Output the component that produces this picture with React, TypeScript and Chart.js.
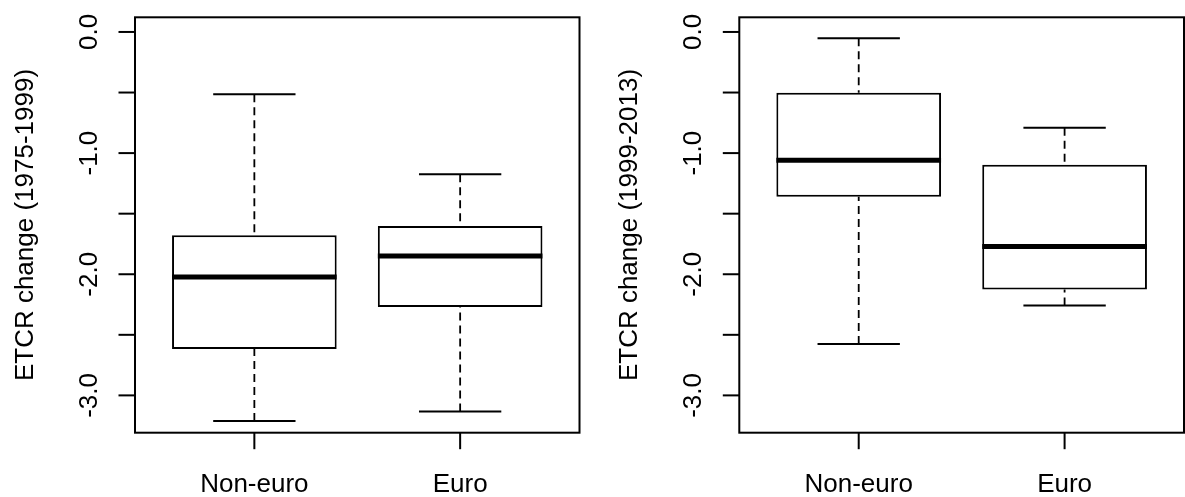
import React, { useEffect, useRef } from "react";
import { Chart, registerables } from "chart.js";

Chart.register(...registerables);

// ---- data ----
const categories = ["Non-euro", "Euro"];
const categoryPositions = [1, 2];
const yTicks = [0, -0.5, -1, -1.5, -2, -2.5, -3];
const yTickLabels = ["0.0", "", "-1.0", "", "-2.0", "", "-3.0"];

// Panel 1: ETCR change (1975-1999)
const p1Lower = [-3.212, -3.132];
const p1Q1 = [-2.617, -2.27];
const p1Median = [-2.022, -1.849];
const p1Q3 = [-1.678, -1.601];
const p1Upper = [-0.515, -1.174];

// Panel 2: ETCR change (1999-2013)
const p2Lower = [-2.576, -2.259];
const p2Q1 = [-1.361, -2.126];
const p2Median = [-1.058, -1.771];
const p2Q3 = [-0.502, -1.097];
const p2Upper = [-0.052, -0.791];

const yTitle1 = "ETCR change (1975-1999)";
const yTitle2 = "ETCR change (1999-2013)";

const yMin = -3.308;
const yMax = 0.121;
const xMin = 0.42;
const xMax = 2.58;

const FONT = '26px "Liberation Sans", Arial, Helvetica, sans-serif';

type PanelProps = {
  left: number;
  width: number;
  padding: { left: number; right: number; top: number; bottom: number };
  lower: number[];
  q1: number[];
  median: number[];
  q3: number[];
  upper: number[];
  title: string;
};

function Panel(props: PanelProps) {
  const ref = useRef<HTMLCanvasElement | null>(null);

  useEffect(() => {
    const canvas = ref.current;
    if (!canvas) return;
    const { lower, q1, median, q3, upper, title } = props;

    const rPlugin = {
      id: "rBoxplot",
      afterDatasetsDraw(chart: any) {
        const { ctx, chartArea: a, scales } = chart;
        const x = scales.x;
        const y = scales.y;
        ctx.save();
        ctx.strokeStyle = "#000";
        ctx.fillStyle = "#000";
        ctx.lineCap = "butt";

        categoryPositions.forEach((pos, i) => {
          const cx = x.getPixelForValue(pos);
          const capL = x.getPixelForValue(pos - 0.2);
          const capR = x.getPixelForValue(pos + 0.2);
          const boxL = x.getPixelForValue(pos - 0.4);
          const boxR = x.getPixelForValue(pos + 0.4);
          // dashed whiskers
          ctx.lineWidth = 1.8;
          ctx.setLineDash([8, 5]);
          ctx.beginPath();
          ctx.moveTo(cx, y.getPixelForValue(upper[i]));
          ctx.lineTo(cx, y.getPixelForValue(q3[i]));
          ctx.moveTo(cx, y.getPixelForValue(lower[i]));
          ctx.lineTo(cx, y.getPixelForValue(q1[i]));
          ctx.stroke();
          ctx.setLineDash([]);
          // staples
          ctx.lineWidth = 2;
          ctx.beginPath();
          ctx.moveTo(capL, y.getPixelForValue(upper[i]));
          ctx.lineTo(capR, y.getPixelForValue(upper[i]));
          ctx.moveTo(capL, y.getPixelForValue(lower[i]));
          ctx.lineTo(capR, y.getPixelForValue(lower[i]));
          ctx.stroke();
          // median
          ctx.lineWidth = 5;
          ctx.beginPath();
          ctx.moveTo(boxL, y.getPixelForValue(median[i]));
          ctx.lineTo(boxR, y.getPixelForValue(median[i]));
          ctx.stroke();
        });

        // frame
        ctx.lineWidth = 2;
        ctx.strokeRect(a.left, a.top, a.right - a.left, a.bottom - a.top);

        // y axis ticks + labels
        ctx.font = FONT;
        yTicks.forEach((v, i) => {
          const py = y.getPixelForValue(v);
          ctx.beginPath();
          ctx.moveTo(a.left - 16.5, py);
          ctx.lineTo(a.left, py);
          ctx.stroke();
          if (yTickLabels[i]) {
            ctx.save();
            ctx.translate(a.left - 38, py);
            ctx.rotate(-Math.PI / 2);
            ctx.textAlign = "center";
            ctx.textBaseline = "alphabetic";
            ctx.fillText(yTickLabels[i], 0, 0);
            ctx.restore();
          }
        });

        // x axis ticks + labels
        categoryPositions.forEach((pos, i) => {
          const px = x.getPixelForValue(pos);
          ctx.beginPath();
          ctx.moveTo(px, a.bottom);
          ctx.lineTo(px, a.bottom + 16.5);
          ctx.stroke();
          ctx.textAlign = "center";
          ctx.textBaseline = "alphabetic";
          ctx.fillText(categories[i], px, a.bottom + 59.5);
        });

        // y title
        ctx.save();
        ctx.translate(a.left - 102, (a.top + a.bottom) / 2);
        ctx.rotate(-Math.PI / 2);
        ctx.textAlign = "center";
        ctx.textBaseline = "alphabetic";
        ctx.fillText(title, 0, 0);
        ctx.restore();

        ctx.restore();
      },
    };

    const chart = new Chart(canvas, {
      type: "bar",
      data: {
        datasets: [
          {
            label: "IQR",
            data: categoryPositions.map((p, i) => ({ x: p, y: [q1[i], q3[i]] })) as any,
            backgroundColor: "#ffffff",
            borderColor: "#000000",
            borderWidth: 2,
            borderSkipped: false,
            barPercentage: 0.8,
            categoryPercentage: 1,
          },
        ],
      },
      options: {
        animation: false,
        responsive: false,
        devicePixelRatio: 1,
        events: [],
        layout: { padding: props.padding },
        plugins: {
          legend: { display: false },
          tooltip: { enabled: false },
          title: { display: false },
        },
        scales: {
          x: {
            type: "linear",
            display: false,
            offset: false,
            grid: { offset: false },
            min: xMin,
            max: xMax,
            afterBuildTicks: (axis: any) => {
              axis.ticks = categoryPositions.map((v) => ({ value: v }));
            },
          },
          y: {
            type: "linear",
            display: false,
            min: yMin,
            max: yMax,
          },
        },
      },
      plugins: [rPlugin],
    });

    return () => chart.destroy();
  }, []);

  return (
    <canvas
      ref={ref}
      width={props.width}
      height={497}
      style={{
        position: "absolute",
        left: props.left,
        top: 0,
        width: props.width,
        height: 497,
      }}
    />
  );
}

export default function App() {
  return (
    <div
      style={{
        position: "fixed",
        left: 0,
        top: 0,
        width: 1185,
        height: 497,
        background: "#ffffff",
        overflow: "hidden",
      }}
    >
      <Panel
        left={0}
        width={592}
        padding={{ left: 135, right: 12.5, top: 17.3, bottom: 64.3 }}
        lower={p1Lower}
        q1={p1Q1}
        median={p1Median}
        q3={p1Q3}
        upper={p1Upper}
        title={yTitle1}
      />
      <Panel
        left={592}
        width={593}
        padding={{ left: 147.3, right: 1, top: 17.3, bottom: 64.3 }}
        lower={p2Lower}
        q1={p2Q1}
        median={p2Median}
        q3={p2Q3}
        upper={p2Upper}
        title={yTitle2}
      />
    </div>
  );
}
